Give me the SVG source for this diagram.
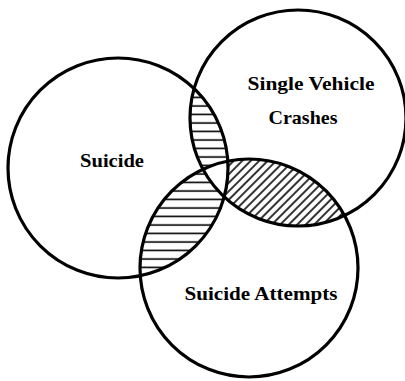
<svg xmlns="http://www.w3.org/2000/svg" width="405" height="381" viewBox="0 0 405 381">
<style>
.ring{fill:none;stroke:#000;stroke-width:3.2}
.lbl{font-family:"Liberation Serif","Times New Roman",serif;font-weight:bold;font-size:19px;fill:#000;text-anchor:middle}
</style>
<defs>
<circle id="cA" cx="118" cy="168" r="110"/>
<circle id="cB" cx="298" cy="118" r="108"/>
<circle id="cC" cx="249" cy="268" r="109"/>
<clipPath id="clipA"><use href="#cA"/></clipPath>
<clipPath id="clipB"><use href="#cB"/></clipPath>
<clipPath id="clipC"><use href="#cC"/></clipPath>
<pattern id="hor" patternUnits="userSpaceOnUse" width="10" height="8.5">
<rect width="10" height="8.5" fill="#fff"/>
<line x1="0" y1="4" x2="10" y2="4" stroke="#000" stroke-width="1.6"/>
</pattern>
<pattern id="diag" patternUnits="userSpaceOnUse" width="6" height="6" patternTransform="rotate(-45)">
<rect width="6" height="6" fill="#fff"/>
<line x1="0" y1="3" x2="6" y2="3" stroke="#000" stroke-width="1.6"/>
</pattern>
</defs>
<rect width="405" height="381" fill="#fff"/>
<g id="hatching">
<g clip-path="url(#clipA)"><rect x="0" y="0" width="405" height="381" fill="url(#hor)" clip-path="url(#clipB)"/></g>
<g clip-path="url(#clipA)"><rect x="0" y="0" width="405" height="381" fill="url(#hor)" clip-path="url(#clipC)"/></g>
<g clip-path="url(#clipB)"><rect x="0" y="0" width="405" height="381" fill="url(#diag)" clip-path="url(#clipC)"/></g>
<g clip-path="url(#clipA)"><g clip-path="url(#clipB)"><use href="#cC" fill="#fff"/></g></g>
</g>
<g id="suicide">
<use href="#cA" class="ring"/>
<text class="lbl" x="112" y="167" textLength="64" lengthAdjust="spacingAndGlyphs">Suicide</text>
</g>
<g id="crashes">
<use href="#cB" class="ring"/>
<text class="lbl" x="311" y="90" textLength="127" lengthAdjust="spacingAndGlyphs">Single Vehicle</text>
<text class="lbl" x="303" y="124" textLength="69" lengthAdjust="spacingAndGlyphs">Crashes</text>
</g>
<g id="attempts">
<use href="#cC" class="ring"/>
<text class="lbl" x="261" y="300" textLength="153" lengthAdjust="spacingAndGlyphs">Suicide Attempts</text>
</g>
<g id="connectors"/>
</svg>
